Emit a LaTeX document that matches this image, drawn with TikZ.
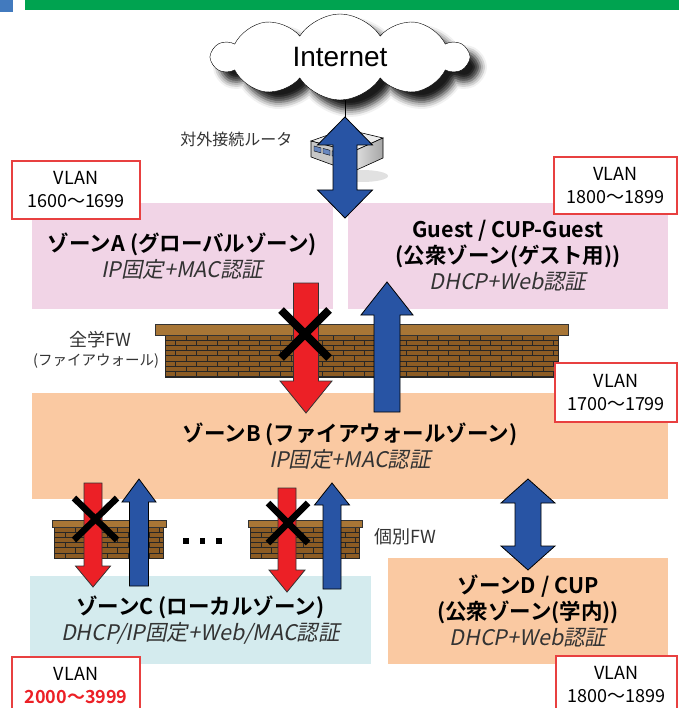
\documentclass[tikz,border=0pt]{standalone}
\usepackage{fontspec}
\setmainfont{Noto Sans CJK JP}[
  BoldFont = Noto Sans CJK JP Bold,
  ItalicFont = Noto Sans CJK JP,
  ItalicFeatures = {FakeSlant=0.2}]
\newfontfamily\netfont{Liberation Sans}
\usetikzlibrary{shapes.symbols, shadows.blur}
\definecolor{zone-pink}{RGB}{241,212,230}
\definecolor{zone-orange}{RGB}{250,201,162}
\definecolor{zone-blue}{RGB}{212,235,238}
\definecolor{arrow-blue}{RGB}{40,84,164}
\definecolor{arrow-red}{RGB}{236,32,38}
\definecolor{vlan-red}{RGB}{232,64,64}
\definecolor{bar-green}{RGB}{0,163,80}
\definecolor{corner-blue}{RGB}{66,122,190}
\definecolor{wall-brick}{RGB}{140,92,36}
\definecolor{wall-top}{RGB}{168,118,54}

% [style]{x}{tail y}{tip y}{half shaft}{half head}{head length}
\newcommand{\blockarrow}[7][]{%
  \pgfmathsetmacro\arrdir{#4>#3 ? 1 : -1}%
  \pgfmathsetmacro\arrbase{#4-\arrdir*#7}%
  \draw[#1] (#2-#5,#3) -- (#2-#5,\arrbase) -- (#2-#6,\arrbase) -- (#2,#4)
    -- (#2+#6,\arrbase) -- (#2+#5,\arrbase) -- (#2+#5,#3) -- cycle;}

% [style]{x}{top y}{bottom y}{half shaft}{half head}{head length}
\newcommand{\dblarrow}[7][]{%
  \draw[#1] (#2,#3) -- (#2+#6,#3+#7) -- (#2+#5,#3+#7) -- (#2+#5,#4-#7)
    -- (#2+#6,#4-#7) -- (#2,#4) -- (#2-#6,#4-#7) -- (#2-#5,#4-#7)
    -- (#2-#5,#3+#7) -- (#2-#6,#3+#7) -- cycle;}

% {x left}{x right}{plank top}{plank bottom}{wall bottom}{inset}
\newcommand{\firewall}[6]{%
  \fill[wall-brick] (#1+#6,#4) rectangle (#2-#6,#5);
  \begin{scope}
    \clip (#1+#6,#4) rectangle (#2-#6,#5);
    \foreach \row in {0,...,8} {
      \draw[mortar] (#1,#4+\row*5.2) -- (#2,#4+\row*5.2);
      \foreach \col in {0,...,20}
        \draw[mortar] ({#1+#6+\col*21+mod(\row,2)*10.5},{#4+\row*5.2}) -- ++(0,5.2);
    }
  \end{scope}
  \draw[mortar] (#1+#6,#4) rectangle (#2-#6,#5);
  \filldraw[fill=wall-top, draw=black!80, line width=0.8pt] (#1,#3) rectangle (#2,#4);}

\begin{document}
\begin{tikzpicture}[x=1pt, y=-1pt,
  zone/.style={inner sep=0pt, align=center, font=\fontsize{21.5}{26}\selectfont},
  vlan/.style={draw=vlan-red, line width=1.2pt, fill=white, inner sep=0pt, align=center,
    font=\fontsize{18}{23}\selectfont},
  note/.style={text=black!80, font=\fontsize{18}{20}\selectfont},
  bluearrow/.style={fill=arrow-blue, draw=black, line width=0.8pt},
  redarrow/.style={fill=arrow-red, draw=black!80, line width=0.8pt},
  cross/.style={black, line width=8pt},
  mortar/.style={black!85, line width=1pt},
]
  \useasboundingbox (0,0) rectangle (679,708);

  % Header bar
  \fill[corner-blue] (0,0) rectangle (13,12);
  \fill[bar-green] (25,0) rectangle (679,10);

  % Internet
  \node[cloud, cloud puffs=10, cloud puff arc=115, aspect=2.6, draw, fill=white,
    minimum width=255, minimum height=86, font=\netfont\fontsize{28}{30}\selectfont,
    blur shadow={shadow xshift=10pt, shadow yshift=-10pt, shadow opacity=90, shadow blur radius=7pt}]
    (inet) at (340,57) {Internet};

  % Zones
  \node[zone, fill=zone-pink, minimum width=301, minimum height=106] (zoneA) at (182.5,256)
    {\textbf{ゾーンA (グローバルゾーン)}\\\textcolor{black!80}{\textit{IP固定+MAC認証}}};
  \node[zone, fill=zone-pink, minimum width=320, minimum height=106] (guest) at (508,256)
    {\textbf{Guest / CUP-Guest}\\\textbf{(公衆ゾーン(ゲスト用))}\\\textcolor{black!80}{\textit{DHCP+Web認証}}};
  \node[zone, fill=zone-orange, minimum width=636, minimum height=106] (zoneB) at (350,446)
    {\textbf{ゾーンB (ファイアウォールゾーン)}\\\textcolor{black!80}{\textit{IP固定+MAC認証}}};
  \node[zone, fill=zone-blue, minimum width=341, minimum height=88] (zoneC) at (200.5,620)
    {\textbf{ゾーンC (ローカルゾーン)}\\\textcolor{black!80}{\textit{DHCP/IP固定+Web/MAC認証}}};
  \node[zone, fill=zone-orange, minimum width=280, minimum height=106] (zoneD) at (528,611)
    {\textbf{ゾーンD / CUP}\\\textbf{(公衆ゾーン(学内))}\\\textcolor{black!80}{\textit{DHCP+Web認証}}};

  % Router
  \coordinate (rtr) at (345,129);
  \draw[black] (inet.south -| rtr) -- (rtr);
  \fill[black!15, opacity=0.8] (362,176) ellipse (26 and 6);
  \filldraw[fill=black!8, draw=black, line width=0.6pt] (311,141) -- (rtr) -- (383,138) -- (352,152) -- cycle;
  \filldraw[fill=black!22, draw=black, line width=0.6pt] (311,141) -- (352,152) -- (352,172) -- (311,157) -- cycle;
  \shade[left color=black!10, right color=black!35] (352,152) -- (383,138) -- (383,158) -- (352,172) -- cycle;
  \draw[black, line width=0.6pt] (352,152) -- (383,138) -- (383,158) -- (352,172) -- cycle;
  \foreach \p in {0,1,2}
    \filldraw[fill=arrow-blue!70, draw=black, line width=0.4pt]
      (314+\p*9,146+\p*2.4) -- ++(7,1.9) -- ++(0,5) -- ++(-7,-1.9) -- cycle;
  \node[note, anchor=east, font=\fontsize{16}{18}\selectfont] (rtrlabel) at (296,139) {対外接続ルータ};

  % Firewalls
  \firewall{155}{568}{324}{335}{377}{10}
  \firewall{52}{166}{520}{527}{558}{2.5}
  \firewall{248}{362}{520}{527}{558}{2.5}
  \node[note] (fwlabel) at (100,340) {全学FW};
  \node[note, font=\fontsize{14.5}{16}\selectfont] (fwsub) at (96,361) {(ファイアウォール)};
  \node[note, anchor=west] (localfw) at (371,537) {個別FW};
  \foreach \d in {186,202.5,219}
    \fill[black] (\d-2.8,538.2) rectangle (\d+2.8,543.8);

  % Traffic
  \dblarrow[bluearrow]{345}{117}{218}{12}{27.5}{28}
  \blockarrow[redarrow]{306}{283}{413}{12.5}{26}{32}
  \blockarrow[bluearrow]{387}{412}{282}{13}{26}{33}
  \blockarrow[redarrow]{93}{483}{587}{9}{17.5}{21}
  \blockarrow[bluearrow]{139}{586}{479}{9.5}{17}{23}
  \blockarrow[redarrow]{287}{488}{592}{9}{18}{22}
  \blockarrow[bluearrow]{332}{589}{483}{9}{17.5}{22}
  \dblarrow[bluearrow]{528}{479}{570}{13}{27}{24}

  % Blocked paths
  \draw[cross] (281,310) -- (329,358);
  \draw[cross] (329,310) -- (281,358);
  \draw[cross, line width=6.5pt] (74,498) -- (117,540);
  \draw[cross, line width=6.5pt] (117,498) -- (74,540);
  \draw[cross, line width=6.5pt] (268,503) -- (308,543);
  \draw[cross, line width=6.5pt] (308,503) -- (268,543);

  % VLAN ranges
  \node[vlan, minimum width=128, minimum height=58] (vlanA) at (76,190) {VLAN\\1600～1699};
  \node[vlan, minimum width=123, minimum height=57] (vlanG) at (615.5,185.5) {VLAN\\1800～1899};
  \node[vlan, minimum width=122, minimum height=59] (vlanB) at (616,392.5) {VLAN\\1700～1799};
  \node[vlan, minimum width=128, minimum height=58] (vlanC) at (76,686)
    {VLAN\\\textcolor{arrow-red}{\textbf{2000～3999}}};
  \node[vlan, minimum width=121, minimum height=58] (vlanD) at (616.5,685) {VLAN\\1800～1899};
\end{tikzpicture}
\end{document}
